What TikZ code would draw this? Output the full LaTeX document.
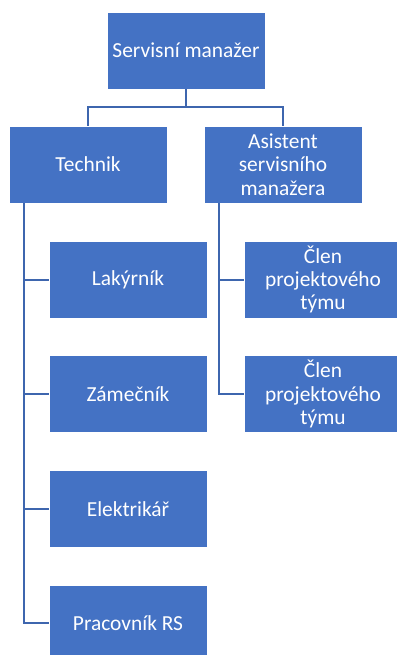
\documentclass[tikz,border=0pt]{standalone}
\usepackage{fontspec}
\setmainfont{Carlito}
\usetikzlibrary{positioning,calc}
\definecolor{orgblue}{HTML}{4472C4}
\definecolor{orgline}{HTML}{3E66AE}
\tikzset{
  role/.style={fill=orgblue, draw=white, line width=0.6bp, text=white, align=center,
    minimum width=158bp, minimum height=77bp, inner sep=2bp,
    font=\fontsize{21.5}{23.3}\selectfont},
  link/.style={draw=orgline, line width=2bp}
}

\begin{document}
\begin{tikzpicture}[x=1bp, y=-1bp, node distance=37bp]
\useasboundingbox (0,0) rectangle (396,655);
\node[role] (boss) at (186,50.5) {Servisní manažer};
\node[role] (tech) at (88,164.5) {Technik};
\node[role] (asist) at (283,164.5) {Asistent\\servisního\\manažera};
\node[role] (lak) at (128,279.5) {Lakýrník};
\node[role, below=of lak] (zam) {Zámečník};
\node[role, below=of zam] (elek) {Elektrikář};
\node[role, below=of elek] (prac) {Pracovník RS};
\node[role] (clen1) at (323,279.5) {Člen\\projektového\\týmu};
\node[role, below=of clen1] (clen2) {Člen\\projektového\\týmu};

\coordinate (split) at ($(boss.south)+(0,18)$);
\draw[link] (boss.south) -- (split);
\draw[link] (split) -| (tech.north);
\draw[link] (split) -| (asist.north);
\draw[link] ([xshift=15bp]tech.south west) |- (lak.west);
\draw[link] ([xshift=15bp]tech.south west) |- (zam.west);
\draw[link] ([xshift=15bp]tech.south west) |- (elek.west);
\draw[link] ([xshift=15bp]tech.south west) |- (prac.west);
\draw[link] ([xshift=15bp]asist.south west) |- (clen1.west);
\draw[link] ([xshift=15bp]asist.south west) |- (clen2.west);
\end{tikzpicture}
\end{document}
